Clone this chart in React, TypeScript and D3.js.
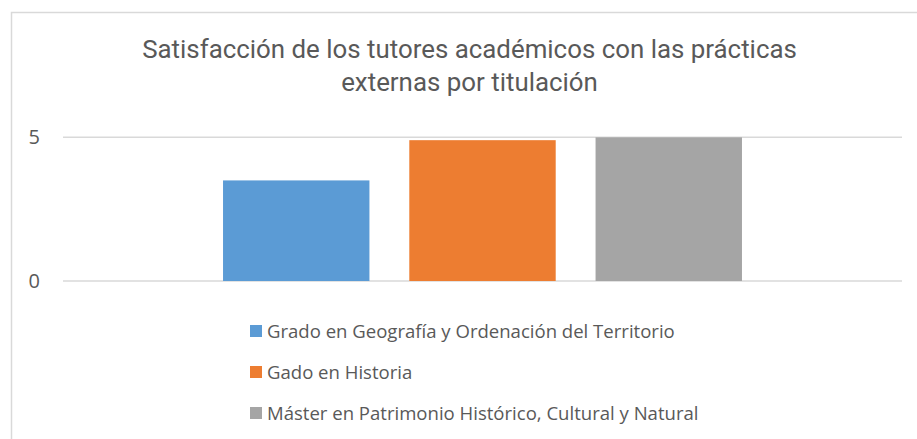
import React, { useRef, useEffect } from 'react';
import * as d3 from 'd3';

// chart data
const titleLines = ['Satisfacción de los tutores académicos con las prácticas', 'externas por titulación'];
const categories = [''];
const seriesNames = [
  'Grado en Geografía y Ordenación del Territorio',
  'Gado en Historia',
  'Máster en Patrimonio Histórico, Cultural y Natural',
];
const seriesValues = [3.5, 4.9, 5.0];
const yTicks = [0, 5];
const COLORS = ['#5b9bd5', '#ed7d31', '#a5a5a5'];

const W = 917;
const H = 439;
const TEXT = '#595959';
const GRID = '#d9d9d9';

export default function App() {
  const svgRef = useRef<SVGSVGElement>(null);

  useEffect(() => {
    if (!svgRef.current) return;
    const svg = d3.select(svgRef.current);
    svg.selectAll('*').remove();

    svg.append('rect').attr('width', W).attr('height', H).attr('fill', '#fff');
    // chart frame (cropped on right and bottom)
    svg.append('rect')
      .attr('x', 11.5).attr('y', 12.5).attr('width', 1000).attr('height', 1000)
      .attr('fill', 'none').attr('stroke', GRID).attr('stroke-width', 1.5);

    const plot = { left: 63, right: 902, top: 137.3, bottom: 281 };

    // title, scaled so the first line matches the reference width
    const title = svg.append('g');
    const t1 = title.append('text').attr('x', 469.5).attr('y', 58)
      .attr('text-anchor', 'middle').style('font-family', 'Roboto')
      .style('font-size', '20px').style('fill', TEXT).text(titleLines[0]);
    const len = (t1.node() as SVGTextElement).getComputedTextLength() || 1;
    const fs = 20 * 655 / len;
    t1.style('font-size', `${fs}px`);
    title.append('text').attr('x', 469.5).attr('y', 91)
      .attr('text-anchor', 'middle').style('font-family', 'Roboto')
      .style('font-size', `${fs}px`).style('fill', TEXT).text(titleLines[1]);

    const y = d3.scaleLinear().domain([0, 5]).range([plot.bottom, plot.top]);
    const x0 = d3.scaleBand().domain(categories).range([plot.left, plot.right]).padding(0.2357);
    const x1 = d3.scaleBand().domain(seriesNames).range([0, x0.bandwidth()]).paddingInner(0.214);

    // gridlines + y labels
    svg.append('g').selectAll('line').data(yTicks).join('line')
      .attr('x1', plot.left).attr('x2', plot.right)
      .attr('y1', d => y(d)).attr('y2', d => y(d))
      .attr('stroke', GRID).attr('stroke-width', 1.5);
    svg.append('g').selectAll('text').data(yTicks).join('text')
      .attr('x', 40).attr('y', d => y(d)).attr('dy', '0.35em')
      .attr('text-anchor', 'end')
      .style('font-family', 'Open Sans').style('font-size', '20px').style('fill', TEXT)
      .text(d => String(d));

    // bars
    const gx = x0(categories[0]) || 0;
    svg.append('g').selectAll('rect').data(seriesValues).join('rect')
      .attr('x', (_, i) => gx + (x1(seriesNames[i]) || 0))
      .attr('width', x1.bandwidth())
      .attr('y', d => y(d))
      .attr('height', d => y(0) - y(d))
      .attr('fill', (_, i) => COLORS[i]);

    // legend
    const lg = svg.append('g');
    const rows = lg.selectAll('g').data(seriesNames).join('g')
      .attr('transform', (_, i) => `translate(250,${331 + i * 41})`);
    rows.append('rect').attr('x', 0).attr('y', -6).attr('width', 12).attr('height', 12)
      .attr('fill', (_, i) => COLORS[i]);
    const lt = rows.append('text').attr('x', 17).attr('dy', '0.35em')
      .style('font-family', 'Open Sans').style('font-size', '16px').style('fill', TEXT)
      .text(d => d);
    const l0 = (lt.nodes()[0] as SVGTextElement).getComputedTextLength() || 1;
    lt.style('font-size', `${16 * 408 / l0}px`);
  }, []);

  return (
    <svg ref={svgRef} width={W} height={H}
      style={{ position: 'absolute', left: 0, top: 0, display: 'block' }} />
  );
}
